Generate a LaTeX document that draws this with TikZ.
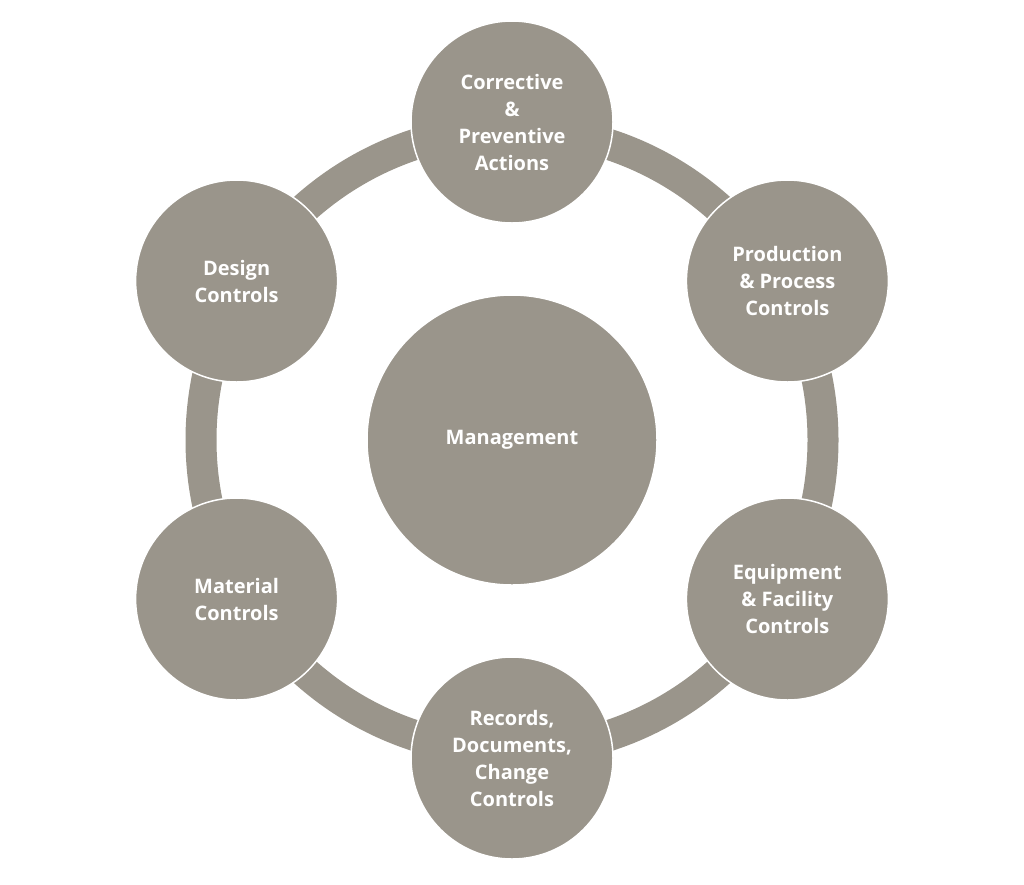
\documentclass[tikz,border=0pt]{standalone}
\usepackage{fontspec}
\setmainfont{Open Sans}
\usetikzlibrary{calc}
\definecolor{gr}{HTML}{9A958B}
\begin{document}
\begin{tikzpicture}[x=1pt,y=-1pt,
  sat/.style={circle,fill=gr,draw=white,line width=1.5pt,minimum size=202pt,inner sep=0pt,
    text=white,align=center,font=\fontsize{20}{27}\selectfont\bfseries},
  ring/.style={draw=gr,line width=31pt}]
\useasboundingbox (0,0) rectangle (1024,884);
\coordinate (c) at (512,440);
\draw[ring] (c) circle (311);
\node[sat,minimum size=290pt] (m) at (c) {Management};
\node[sat] (a) at ($(c)+(-90:318)$) {Corrective\\\&\\Preventive\\Actions};
\node[sat] (b) at ($(c)+(-30:318)$) {Production\\\& Process\\Controls};
\node[sat] (d) at ($(c)+(30:318)$) {Equipment\\\& Facility\\Controls};
\node[sat] (e) at ($(c)+(90:318)$) {Records,\\Documents,\\Change\\Controls};
\node[sat] (f) at ($(c)+(150:318)$) {Material\\Controls};
\node[sat] (g) at ($(c)+(210:318)$) {Design\\Controls};
\end{tikzpicture}
\end{document}
